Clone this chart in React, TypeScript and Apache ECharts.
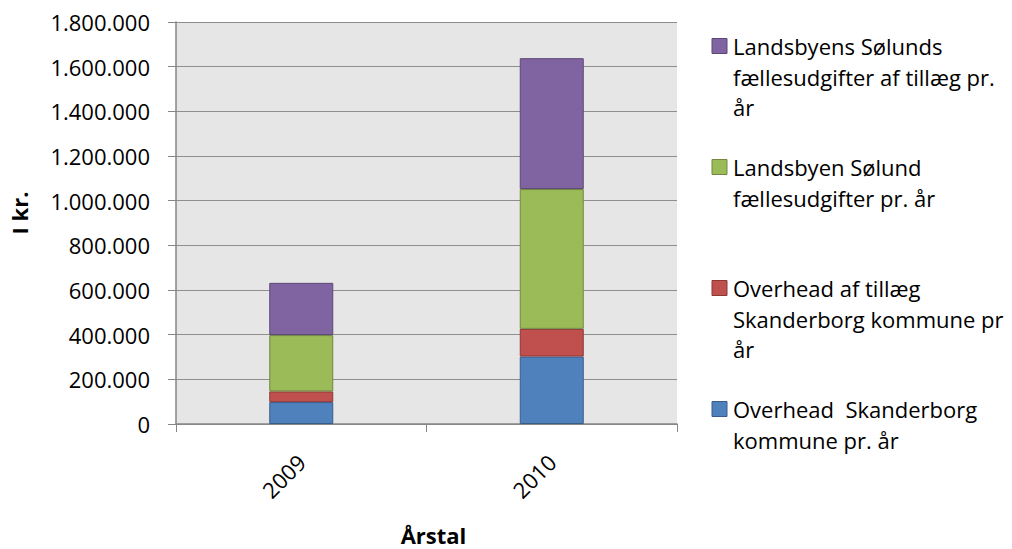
import React, { useEffect, useRef } from "react";
import * as echarts from "echarts";

const categories = ["2009", "2010"];
const overheadSkanderborg = [98000, 302000];
const overheadTillaeg = [48000, 124000];
const faellesudgifter = [252000, 626000];
const faellesTillaeg = [234000, 586000];

const legendNames = [
  "Landsbyens Sølunds\nfællesudgifter af tillæg pr.\når",
  "Landsbyen Sølund\nfællesudgifter pr. år",
  "Overhead af tillæg\nSkanderborg kommune pr\når",
  "Overhead  Skanderborg\nkommune pr. år",
];
const colors = ["#8064A2", "#9BBB59", "#C0504D", "#4F81BD"];
const borders = ["#5C4776", "#71893F", "#8C3836", "#385D8A"];
const seriesValues = [faellesTillaeg, faellesudgifter, overheadTillaeg, overheadSkanderborg];
const legendFirstLineCenters = [46, 167, 288, 409];

const FONT = "Open Sans";
const FS = 22;

function fmt(v: number): string {
  return String(Math.round(v)).replace(/\B(?=(\d{3})+(?!\d))/g, ".");
}

export default function App() {
  const ref = useRef<HTMLDivElement>(null);
  useEffect(() => {
    if (!ref.current) return;
    document.body.style.overflow = "hidden";
    const chart = echarts.init(ref.current, undefined, { renderer: "svg" });
    const order = [3, 2, 1, 0];
    const series = order.map((i) => ({
      type: "bar",
      name: legendNames[i].replace(/\n/g, " "),
      stack: "total",
      data: seriesValues[i],
      barWidth: 64,
      itemStyle: { color: colors[i], borderColor: borders[i], borderWidth: 1 },
    }));
    const graphics: any[] = [];
    legendNames.forEach((n, i) => {
      const c = legendFirstLineCenters[i];
      graphics.push({
        type: "rect",
        shape: { x: 712, y: c - 7.5, width: 15, height: 15 },
        style: { fill: colors[i], stroke: borders[i], lineWidth: 1 },
      });
      graphics.push({
        type: "text",
        x: 733,
        y: c - 15.25,
        style: {
          text: n,
          font: `${FS}px '${FONT}'`,
          fill: "#000",
          lineHeight: 30.5,
          verticalAlign: "top",
          align: "left",
        },
      });
    });
    chart.setOption({
      animation: false,
      grid: {
        left: 176,
        right: 335,
        top: 22,
        bottom: 125,
        show: true,
        backgroundColor: "#E6E6E6",
        borderWidth: 0,
        containLabel: false,
        outerBoundsMode: "none",
      },
      xAxis: {
        type: "category",
        data: categories,
        name: "Årstal",
        nameLocation: "middle",
        nameGap: 100,
        nameTextStyle: {
          fontFamily: FONT,
          fontSize: FS,
          fontWeight: "bold",
          color: "#000",
          lineHeight: 22,
          padding: [0, 0, 0, 14],
        },
        axisLine: { lineStyle: { color: "#868686", width: 1.5 } },
        axisTick: { show: true, length: 8, lineStyle: { color: "#868686" } },
        axisLabel: {
          rotate: 45,
          margin: 34,
          fontFamily: FONT,
          fontSize: FS,
          color: "#000",
        },
      },
      yAxis: {
        type: "value",
        min: 0,
        max: 1800000,
        interval: 200000,
        name: "I kr.",
        nameLocation: "middle",
        nameGap: 146,
        nameRotate: 90,
        nameTextStyle: {
          fontFamily: FONT,
          fontSize: FS,
          fontWeight: "bold",
          color: "#000",
          padding: [0, 0, 0, 20],
        },
        axisLine: { show: true, lineStyle: { color: "#868686", width: 1.5 } },
        axisTick: { show: true, length: 8, lineStyle: { color: "#868686" } },
        splitLine: { show: true, lineStyle: { color: "#8E8E8E", width: 1 } },
        axisLabel: {
          margin: 26,
          fontFamily: FONT,
          fontSize: FS,
          color: "#000",
          formatter: (v: number) => fmt(v),
        },
      },
      series,
      graphic: graphics,
    });
    return () => chart.dispose();
  }, []);
  return (
    <div
      ref={ref}
      style={{
        position: "absolute",
        left: 0,
        top: 0,
        width: 1012,
        height: 549,
        overflow: "hidden",
      }}
    />
  );
}
